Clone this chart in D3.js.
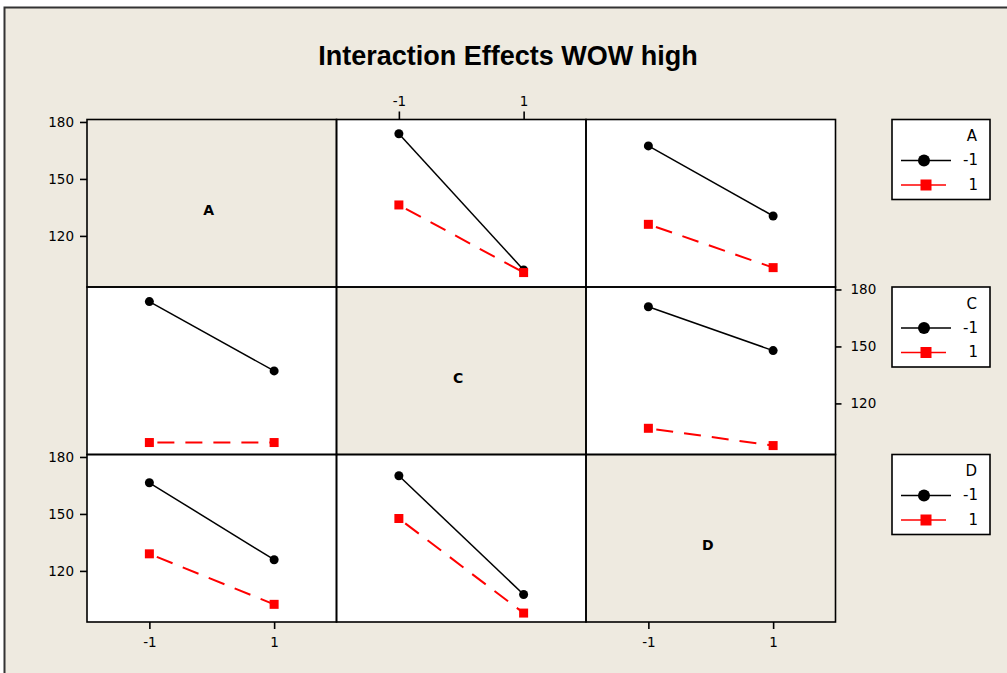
<!DOCTYPE html>
<html>
<head>
<meta charset="utf-8">
<script src="https://cdn.jsdelivr.net/npm/d3@7/dist/d3.min.js"></script>
<style>
  html, body { margin: 0; padding: 0; background: #ffffff; }
  svg { display: block; }
</style>
</head>
<body>
<svg id="chart" width="1007" height="673"></svg>
<script>
// ---------------- DATA ----------------
const title = "Interaction Effects WOW high";
const factors = ["A", "C", "D"];
const levels = [-1, 1];
const levelLabels = ["-1", "1"];
const yTicks = [120, 150, 180];

// Row A: lines are levels of A
const panelAC_traceNeg = [173.8, 102.1];
const panelAC_tracePos = [136.3, 100.7];
const panelAD_traceNeg = [167.4, 130.5];
const panelAD_tracePos = [126.1, 103.3];
// Row C: lines are levels of C
const panelCA_traceNeg = [173.6, 137.1];
const panelCA_tracePos = [99.4, 99.4];
const panelCD_traceNeg = [170.9, 147.8];
const panelCD_tracePos = [106.9, 97.8];
// Row D: lines are levels of D
const panelDA_traceNeg = [166.4, 125.9];
const panelDA_tracePos = [129.0, 102.4];
const panelDC_traceNeg = [170.1, 107.6];
const panelDC_tracePos = [147.6, 97.8];

const panels = [
  { row: 0, col: 1, neg: panelAC_traceNeg, pos: panelAC_tracePos },
  { row: 0, col: 2, neg: panelAD_traceNeg, pos: panelAD_tracePos },
  { row: 1, col: 0, neg: panelCA_traceNeg, pos: panelCA_tracePos },
  { row: 1, col: 2, neg: panelCD_traceNeg, pos: panelCD_tracePos },
  { row: 2, col: 0, neg: panelDA_traceNeg, pos: panelDA_tracePos },
  { row: 2, col: 1, neg: panelDC_traceNeg, pos: panelDC_tracePos }
];

// ---------------- LAYOUT ----------------
const BG = "#eeeae0";
const FONT = "'DejaVu Sans', Verdana, sans-serif";
const gridX0 = 87, gridY0 = 119.5;
const pw = 249.5, ph = 167.5;

const svg = d3.select("#chart");

// outer frame
svg.append("rect")
  .attr("x", 4.5).attr("y", 7.5)
  .attr("width", 1100).attr("height", 800)
  .attr("fill", BG).attr("stroke", "#333").attr("stroke-width", 2);

// title
svg.append("text")
  .attr("x", 508).attr("y", 65)
  .attr("text-anchor", "middle")
  .attr("font-family", "'Liberation Sans', Arial, sans-serif")
  .attr("font-weight", "bold")
  .attr("font-size", 27)
  .attr("fill", "#000")
  .text(title);

const x = d3.scaleLinear().domain([-2, 2]).range([0, pw]);
const y = d3.scaleLinear().domain([93.1, 181.3]).range([ph, 0]);

const grid = svg.append("g").attr("transform", `translate(${gridX0},${gridY0})`);

// panel backgrounds
for (let r = 0; r < 3; r++) {
  for (let c = 0; c < 3; c++) {
    const g = grid.append("g").attr("transform", `translate(${c * pw},${r * ph})`);
    g.append("rect")
      .attr("width", pw).attr("height", ph)
      .attr("fill", r === c ? BG : "#ffffff");
    if (r === c) {
      g.append("text")
        .attr("x", pw / 2 - 3).attr("y", ph / 2 + 8)
        .attr("text-anchor", "middle")
        .attr("dominant-baseline", "middle")
        .attr("font-family", FONT)
        .attr("font-weight", "bold")
        .attr("font-size", 14)
        .text(factors[r]);
    }
  }
}

// lines & markers
const line = d3.line().x((d, i) => x(levels[i])).y(d => y(d));
panels.forEach(p => {
  const g = grid.append("g").attr("transform", `translate(${p.col * pw},${p.row * ph})`);
  g.append("path").datum(p.neg).attr("d", line)
    .attr("fill", "none").attr("stroke", "#000").attr("stroke-width", 1.5);
  g.append("path").datum(p.pos).attr("d", line)
    .attr("fill", "none").attr("stroke", "#ff0000").attr("stroke-width", 2)
    .attr("stroke-dasharray", "17,11").attr("stroke-dashoffset", -8);
  g.selectAll("circle").data(p.neg).enter().append("circle")
    .attr("cx", (d, i) => x(levels[i])).attr("cy", d => y(d))
    .attr("r", 4.5).attr("fill", "#000");
  g.selectAll("rect.sq").data(p.pos).enter().append("rect")
    .attr("class", "sq")
    .attr("x", (d, i) => x(levels[i]) - 4.5).attr("y", d => y(d) - 4.5)
    .attr("width", 9).attr("height", 9).attr("fill", "#ff0000");
});

// panel borders
for (let r = 0; r < 3; r++) {
  for (let c = 0; c < 3; c++) {
    grid.append("rect")
      .attr("x", c * pw).attr("y", r * ph)
      .attr("width", pw).attr("height", ph)
      .attr("fill", "none").attr("stroke", "#000").attr("stroke-width", 1.6);
  }
}

function styleAxis(g) {
  g.select(".domain").remove();
  g.selectAll(".tick line").attr("stroke", "#000").attr("stroke-width", 1.6);
  g.selectAll(".tick text").attr("font-family", FONT).attr("font-size", 13.5).attr("fill", "#000");
}

// y axes: left on rows 0 and 2, right on row 1
[0, 2].forEach(r => {
  grid.append("g").attr("transform", `translate(0,${r * ph})`)
    .call(d3.axisLeft(y).tickValues(yTicks).tickFormat(d3.format("d")).tickSize(7).tickPadding(6))
    .call(styleAxis);
});
grid.append("g").attr("transform", `translate(${3 * pw},${ph})`)
  .call(d3.axisRight(y).tickValues(yTicks).tickFormat(d3.format("d")).tickSize(6).tickPadding(9))
  .call(styleAxis);

// x axes: top on col 1, bottom on cols 0 and 2
grid.append("g").attr("transform", `translate(${pw},0)`)
  .call(d3.axisTop(x).tickValues(levels).tickFormat((d, i) => levelLabels[i]).tickSize(8).tickPadding(6))
  .call(styleAxis);
[0, 2].forEach(c => {
  grid.append("g").attr("transform", `translate(${c * pw},${3 * ph})`)
    .call(d3.axisBottom(x).tickValues(levels).tickFormat((d, i) => levelLabels[i]).tickSize(7).tickPadding(8))
    .call(styleAxis);
});

// legends
factors.forEach((f, r) => {
  const lg = svg.append("g").attr("transform", `translate(892,${gridY0 + r * ph})`);
  lg.append("rect").attr("width", 98).attr("height", 80)
    .attr("fill", "#fff").attr("stroke", "#000").attr("stroke-width", 1.6);
  lg.append("text").attr("x", 85).attr("y", 17).attr("text-anchor", "end")
    .attr("dominant-baseline", "middle")
    .attr("font-family", FONT).attr("font-size", 15).text(f);
  lg.append("line").attr("x1", 9).attr("x2", 59).attr("y1", 41).attr("y2", 41)
    .attr("stroke", "#000").attr("stroke-width", 1.6);
  lg.append("circle").attr("cx", 32).attr("cy", 41).attr("r", 6).attr("fill", "#000");
  lg.append("text").attr("x", 86).attr("y", 41).attr("text-anchor", "end")
    .attr("dominant-baseline", "middle")
    .attr("font-family", FONT).attr("font-size", 15).text(levelLabels[0]);
  lg.append("line").attr("x1", 9).attr("x2", 54).attr("y1", 65.5).attr("y2", 65.5)
    .attr("stroke", "#ff0000").attr("stroke-width", 1.6);
  lg.append("rect").attr("x", 28.5).attr("y", 60).attr("width", 11).attr("height", 11).attr("fill", "#ff0000");
  lg.append("text").attr("x", 86).attr("y", 65.5).attr("text-anchor", "end")
    .attr("dominant-baseline", "middle")
    .attr("font-family", FONT).attr("font-size", 15).text(levelLabels[1]);
});
</script>
</body>
</html>
